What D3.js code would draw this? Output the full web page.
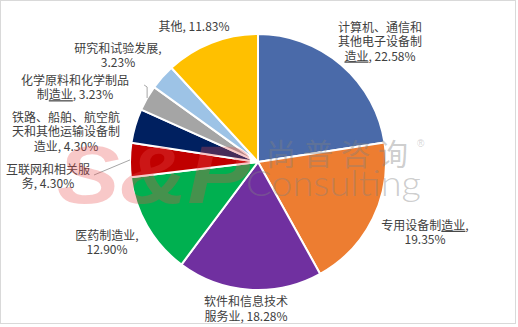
<!DOCTYPE html>
<html>
<head>
<meta charset="utf-8">
<script src="https://cdn.jsdelivr.net/npm/d3@7"></script>
<style>
  html, body { margin: 0; padding: 0; background: #fff; }
  svg { display: block; }
</style>
</head>
<body>
<svg id="chart" width="518" height="327"></svg>
<script>
// Industry shares (%), clockwise from 12 o'clock
const categories = [
  "计算机、通信和其他电子设备制造业",
  "专用设备制造业",
  "软件和信息技术服务业",
  "医药制造业",
  "互联网和相关服务",
  "铁路、船舶、航空航天和其他运输设备制造业",
  "化学原料和化学制品制造业",
  "研究和试验发展",
  "其他"
];
const shares = [22.58, 19.35, 18.28, 12.90, 4.30, 4.30, 3.23, 3.23, 11.83];
const sliceColors = ["#5585c8", "#ed7d31", "#7030a0", "#00b050", "#c00000",
                     "#002060", "#a5a5a5", "#9dc3e6", "#ffc000"];

// Label wrapping: character counts per name line; whether the value goes on its own line
const labelWrap = [[7, 7, 2], [7], [7, 3], [5], [7, 1], [9, 9, 2], [9, 3], [7], [2]];
const valueOwnLine = [false, true, false, true, false, false, false, true, false];
// Text-block centres, relative to the pie centre
const labelOffset = [[122, -122], [167, 69], [-12, 145.5], [-151, 79], [-210, 13],
                     [-192, -32], [-183, -76], [-140, -108], [-64, -137]];
// Name fragments drawn with the spell-check style underline
const underlined = { 0: "造业", 1: "造业", 6: "造业" };

const W = 518, H = 327;
const cx = 258, cy = 162, R = 128;
const lineGap = 14.5;

const svg = d3.select("#chart");
const defs = svg.append("defs");

// Border around the chart area
svg.append("rect")
  .attr("x", 0.5).attr("y", 0.5).attr("width", 515).attr("height", 323)
  .attr("fill", "#fff").attr("stroke", "#d9d9d9");

// Gradient for the first slice
const grad = defs.append("linearGradient")
  .attr("id", "g0").attr("gradientUnits", "userSpaceOnUse")
  .attr("x1", 0).attr("y1", cy - R).attr("x2", 0).attr("y2", cy);
grad.append("stop").attr("offset", "0%").attr("stop-color", "#4a6aa9");
grad.append("stop").attr("offset", "100%").attr("stop-color", "#5b95d8");

const data = categories.map((c, i) => ({ name: c, value: shares[i], i }));

const pie = d3.pie().value(d => d.value).sort(null);
const arc = d3.arc().innerRadius(0).outerRadius(R);
const arcs = pie(data);

const g = svg.append("g").attr("transform", `translate(${cx},${cy})`);

g.selectAll("path.slice")
  .data(arcs)
  .join("path")
  .attr("class", "slice")
  .attr("d", arc)
  .attr("fill", d => d.data.i === 0 ? "url(#g0)" : sliceColors[d.data.i])
  .attr("stroke", "#fff")
  .attr("stroke-width", 2)
  .attr("stroke-linejoin", "round");

// Leader lines for two small slices
const outerPt = (a, r) => {
  const m = (a.startAngle + a.endAngle) / 2;
  return [Math.sin(m) * r, -Math.cos(m) * r];
};
const leaderColor = "#a6a6a6";
{
  const a = arcs[4];
  const p = outerPt(a, R);
  const lo = labelOffset[4];
  g.append("path")
    .attr("d", d3.line()([p, [lo[0] + 46, lo[1]]]))
    .attr("fill", "none").attr("stroke", leaderColor).attr("stroke-width", 1);
}
{
  const a = arcs[6];
  const p = outerPt(a, R);
  const lo = labelOffset[6];
  g.append("path")
    .attr("d", d3.line()([p, [p[0], lo[1] + 1], [p[0] - 3, lo[1] - 1]]))
    .attr("fill", "none").attr("stroke", leaderColor).attr("stroke-width", 1);
}

// Data labels
const fmt = d3.format(".2f");
const labels = g.append("g")
  .attr("font-family", "'Noto Sans CJK SC', 'Noto Sans', sans-serif")
  .attr("font-size", 12)
  .attr("fill", "#404040")
  .attr("text-anchor", "middle");

arcs.forEach(a => {
  const i = a.data.i;
  const name = a.data.name;
  const val = fmt(a.data.value) + "%";
  const lines = [];
  let pos = 0;
  labelWrap[i].forEach(n => { lines.push(name.slice(pos, pos + n)); pos += n; });
  if (valueOwnLine[i]) {
    lines[lines.length - 1] += ",";
    lines.push(val);
  } else {
    lines[lines.length - 1] += ", " + val;
  }
  const [ox, oy] = labelOffset[i];
  const t = labels.append("text")
    .attr("x", ox).attr("y", oy)
    .attr("dominant-baseline", "central");
  lines.forEach((ln, k) => {
    const ts = t.append("tspan")
      .attr("x", ox)
      .attr("y", oy + (k - (lines.length - 1) / 2) * lineGap);
    const u = underlined[i];
    const idx = u ? ln.indexOf(u) : -1;
    if (idx >= 0 && k >= lines.length - 2) {
      ts.append("tspan").text(ln.slice(0, idx));
      ts.append("tspan").text(u).style("text-decoration", "underline");
      ts.append("tspan").text(ln.slice(idx + u.length));
    } else {
      ts.text(ln);
    }
  });
});

// Watermark
const wm = svg.append("g").attr("pointer-events", "none");
wm.append("text")
  .attr("x", 57).attr("y", 203)
  .attr("font-family", "'Liberation Sans', Arial, sans-serif")
  .attr("font-weight", "bold").attr("font-style", "italic")
  .attr("font-size", 82)
  .attr("textLength", 193).attr("lengthAdjust", "spacingAndGlyphs")
  .attr("fill", "#e84a4a").attr("fill-opacity", 0.3)
  .text("S&P");
wm.append("text")
  .attr("x", 266).attr("y", 165)
  .attr("font-family", "'Noto Sans CJK SC', sans-serif")
  .attr("font-size", 30)
  .attr("textLength", 142).attr("lengthAdjust", "spacing")
  .attr("fill", "#808080").attr("fill-opacity", 0.4)
  .text("尚普咨询");
wm.append("text")
  .attr("x", 417).attr("y", 147)
  .attr("font-family", "'Liberation Sans', Arial, sans-serif")
  .attr("font-size", 10)
  .attr("fill", "#808080").attr("fill-opacity", 0.35)
  .text("®");
wm.append("text")
  .attr("x", 246).attr("y", 196)
  .attr("font-family", "Lato, 'Open Sans', sans-serif")
  .attr("font-weight", 300)
  .attr("font-size", 35)
  .attr("textLength", 175).attr("lengthAdjust", "spacingAndGlyphs")
  .attr("fill", "#808080").attr("fill-opacity", 0.4)
  .text("Consulting");
</script>
</body>
</html>
